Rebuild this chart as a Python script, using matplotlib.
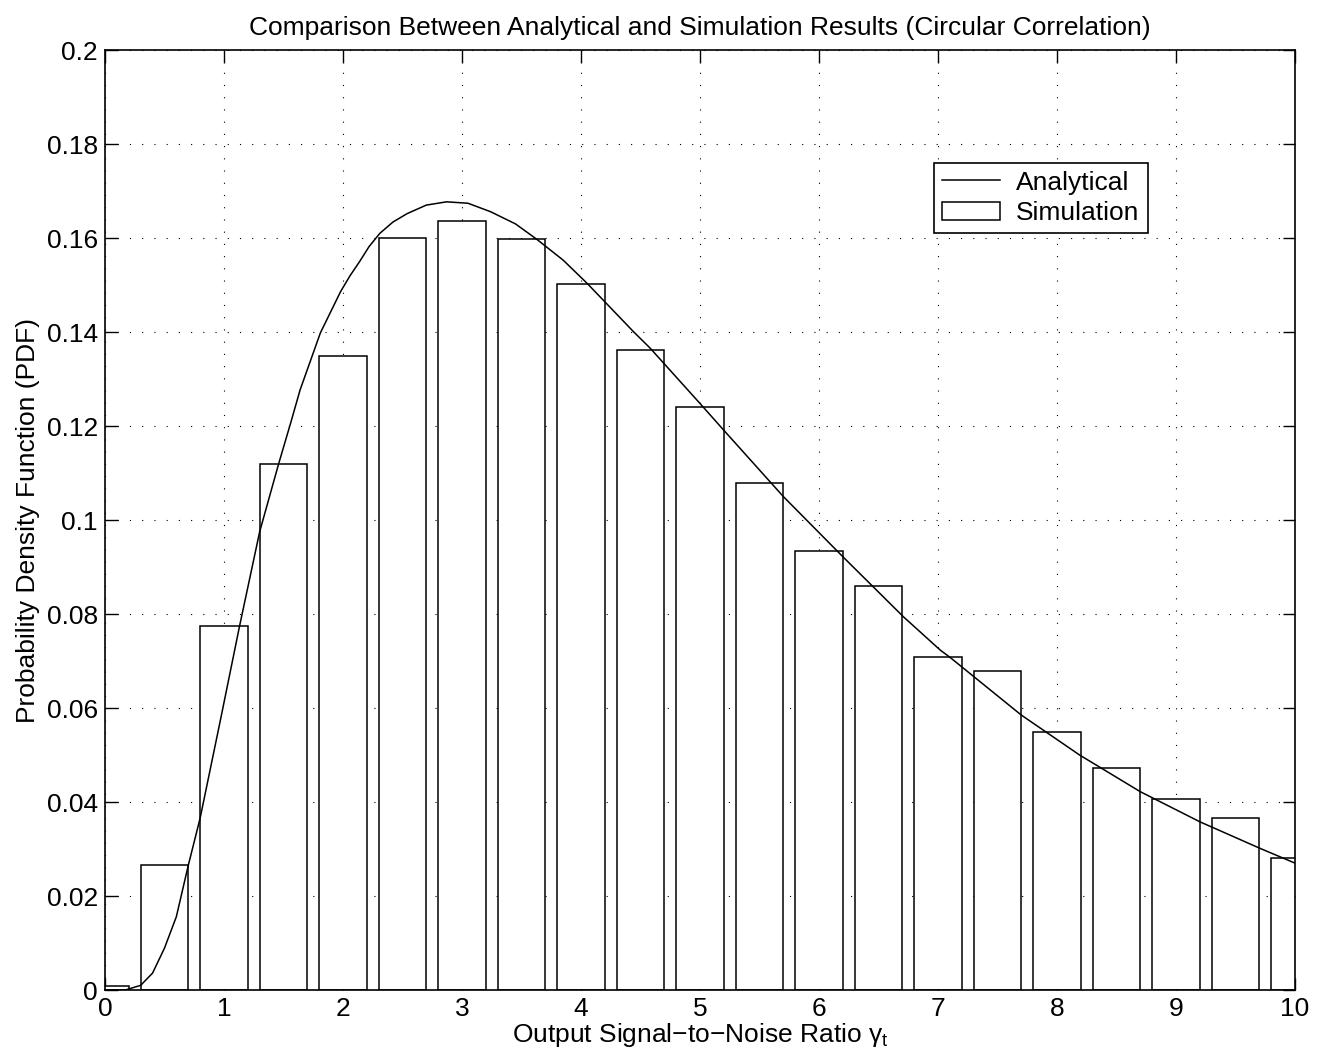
import numpy as np
import matplotlib
matplotlib.use("Agg")
import matplotlib.pyplot as plt

plt.rcParams['font.family'] = ['Liberation Sans', 'DejaVu Sans']
plt.rcParams['mathtext.fontset'] = 'custom'
plt.rcParams['mathtext.rm'] = 'Liberation Sans'
plt.rcParams['mathtext.it'] = 'Liberation Sans'

# -----------------------------
# Data
# -----------------------------
# simulated histogram (bin centres and heights)
bin_centers = [0.0, 0.5, 1.0, 1.5, 2.0, 2.5, 3.0, 3.5, 4.0, 4.5, 5.0,
               5.5, 6.0, 6.5, 7.0, 7.5, 8.0, 8.5, 9.0, 9.5, 10.0]
sim_pdf = [0.0009, 0.0265, 0.0774, 0.1120, 0.1350, 0.1600, 0.1637, 0.1597,
           0.1502, 0.1362, 0.1240, 0.1079, 0.0935, 0.0860, 0.0709, 0.0679,
           0.0550, 0.0473, 0.0406, 0.0367, 0.0281]

# analytical pdf curve
gamma_x = [0.0, 0.17, 0.3, 0.4, 0.5, 0.6, 0.7, 0.8, 0.97, 1.13, 1.30, 1.46,
           1.56, 1.64, 1.81, 1.98, 2.06, 2.14, 2.22, 2.31, 2.42, 2.54, 2.70,
           2.87, 3.05, 3.24, 3.45, 3.63, 3.85, 4.05, 4.44, 4.58, 5.0, 5.2,
           5.7, 6.2, 6.71, 7.02, 7.10, 7.70, 8.19, 8.70, 9.20, 9.71, 10.0]
analytical_pdf = [0.0, 0.0, 0.0010, 0.0036, 0.0089, 0.0156, 0.0265, 0.0366,
                  0.0574, 0.0773, 0.0975, 0.1120, 0.1206, 0.1277, 0.1398,
                  0.1486, 0.1520, 0.1550, 0.1582, 0.1610, 0.1634, 0.1652,
                  0.1670, 0.1677, 0.1674, 0.1656, 0.1630, 0.1597, 0.1553,
                  0.1504, 0.1401, 0.1366, 0.1248, 0.1191, 0.1050, 0.0922,
                  0.0794, 0.0723, 0.0708, 0.0585, 0.0500, 0.0422, 0.0358,
                  0.0301, 0.0270]

y_ticks = [0, 0.02, 0.04, 0.06, 0.08, 0.1, 0.12, 0.14, 0.16, 0.18, 0.2]
y_tick_labels = ['0', '0.02', '0.04', '0.06', '0.08', '0.1', '0.12', '0.14',
                 '0.16', '0.18', '0.2']
x_ticks = list(range(0, 11))

# -----------------------------
# Plot
# -----------------------------
fig = plt.figure(figsize=(13.25, 10.64), dpi=100)
ax = fig.add_axes([0.0792, 0.0695, 0.8982, 0.8835])

ax.bar(bin_centers, sim_pdf, width=0.4, color='white', edgecolor='black',
       linewidth=1.1, label='Simulation', zorder=2)
ax.plot(gamma_x, analytical_pdf, color='black', linewidth=1.1,
        label='Analytical', zorder=3)

ax.set_xlim(0, 10)
ax.set_ylim(0, 0.2)
ax.set_xticks(x_ticks)
ax.set_yticks(y_ticks)
ax.set_yticklabels(y_tick_labels)

ax.set_axisbelow(True)
ax.grid(True, color='black', linestyle=(0, (1, 10)), linewidth=0.8)
ax.tick_params(direction='in', length=9, width=1.0, top=True, right=True,
               labelsize=19, pad=5)
for sp in ax.spines.values():
    sp.set_linewidth(1.2)

ax.set_title("Comparison Between Analytical and Simulation Results (Circular Correlation)",
             fontsize=19, pad=11)
ax.set_xlabel("Output Signal\u2212to\u2212Noise Ratio $\\gamma_{t}$", fontsize=19,
              labelpad=0)
ax.set_ylabel("Probability Density Function (PDF)", fontsize=19, labelpad=5)

leg = ax.legend(loc='upper left', bbox_to_anchor=(0.697, 0.880), fontsize=19,
                fancybox=False, edgecolor='black', framealpha=1,
                handlelength=2.2, borderpad=0.3, labelspacing=0.25,
                handletextpad=0.6, borderaxespad=0)
leg.get_frame().set_linewidth(1.2)

fig.savefig("out.png", dpi=100)
